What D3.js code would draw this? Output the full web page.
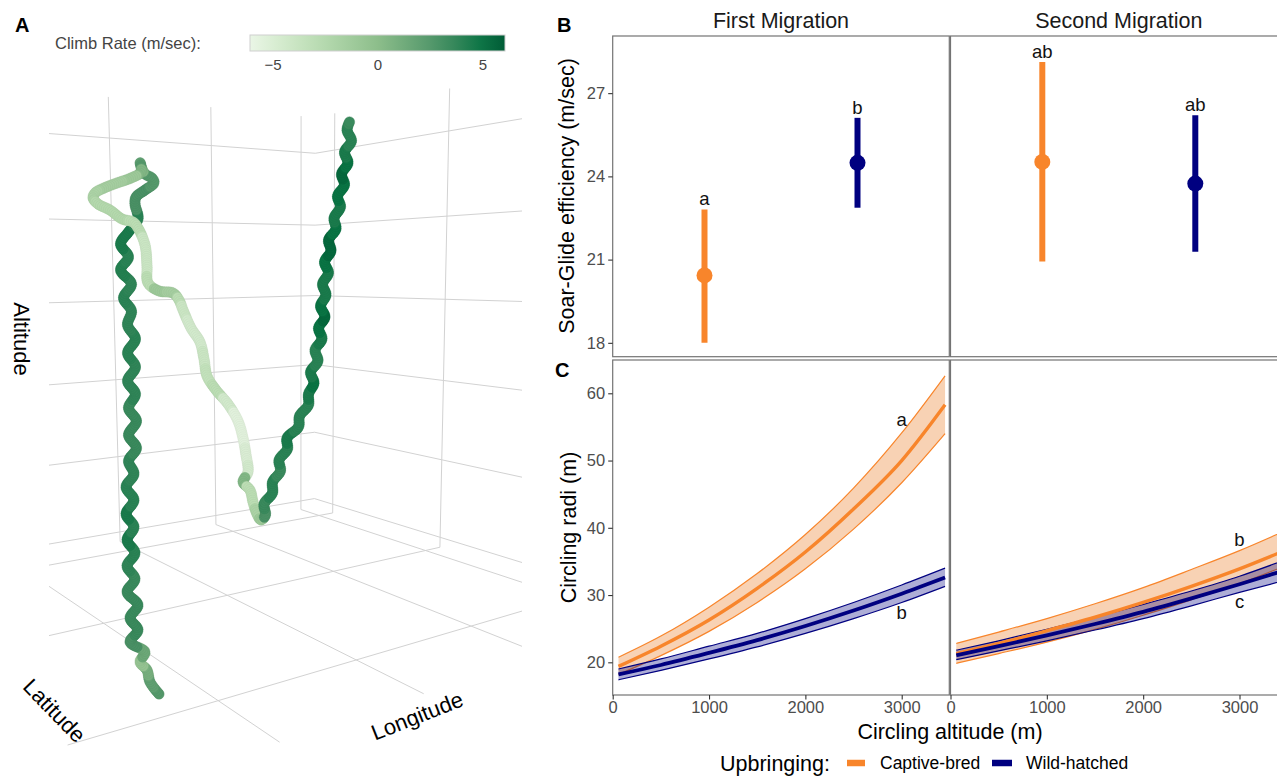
<!DOCTYPE html>
<html>
<head>
<meta charset="utf-8">
<script src="https://cdn.jsdelivr.net/npm/d3@7"></script>
<style>
  body { margin: 0; background: #fff; }
  svg { display: block; }
  text { font-family: "Liberation Sans", Arial, sans-serif; }
</style>
</head>
<body>
<svg id="fig" width="1277" height="776"></svg>
<script>
// ---------- data ----------
const groups = ["Captive-bred", "Wild-hatched"];
const migrations = ["First Migration", "Second Migration"];
const groupColors = ["#f8852b", "#000080"];

// B: soar-glide efficiency (m/sec), mean and interval per upbringing
const firstEff = [20.43, 24.49];
const firstLow = [18.0, 22.87];
const firstHigh = [22.81, 26.11];
const firstLetters = ["a", "b"];
const secondEff = [24.52, 23.74];
const secondLow = [20.93, 21.28];
const secondHigh = [28.12, 26.2];
const secondLetters = ["ab", "ab"];
const effTicks = [18, 21, 24, 27];

// C: circling radius (m) against circling altitude (m)
const altitude = [60, 500, 1000, 1500, 2000, 2500, 3000, 3450];
const captiveFirstFit = [19.4, 22.4, 26.3, 31.0, 36.4, 42.8, 50.0, 58.3];
const captiveFirstLow = [18.2, 21.0, 24.6, 28.9, 33.9, 39.8, 46.7, 54.0];
const captiveFirstHigh = [20.75, 23.9, 28.2, 33.2, 39.0, 45.9, 54.1, 62.6];
const wildFirstFit = [18.2, 19.6, 21.4, 23.3, 25.4, 27.7, 30.2, 32.6];
const wildFirstLow = [17.4, 18.8, 20.5, 22.3, 24.3, 26.5, 28.9, 31.3];
const wildFirstHigh = [19.0, 20.5, 22.4, 24.3, 26.5, 28.9, 31.5, 34.0];
const captiveSecondFit = [21.3, 22.8, 24.7, 26.7, 28.9, 31.3, 33.9, 36.5];
const captiveSecondLow = [19.85, 21.3, 23.0, 24.9, 27.0, 29.3, 31.7, 34.2];
const captiveSecondHigh = [22.8, 24.5, 26.5, 28.7, 31.1, 33.8, 36.6, 39.4];
const wildSecondFit = [21.05, 22.4, 24.0, 25.7, 27.5, 29.5, 31.6, 33.6];
const wildSecondLow = [20.4, 21.7, 23.2, 24.8, 26.5, 28.4, 30.4, 32.1];
const wildSecondHigh = [21.8, 23.2, 24.9, 26.7, 28.6, 30.6, 32.8, 35.1];
const radiusTicks = [20, 30, 40, 50, 60];
const altTicksC = [0, 1000, 2000, 3000];
const firstCurveLetters = ["a", "b"];
const secondCurveLetters = ["b", "c"];

// A: flight track in projected view units (0-100), climb rate (m/sec)
const trackX = [31.8, 30.0, 29.4, 28.0, 29.0, 26.0, 27.6, 26.0, 27.6, 25.4, 27.0, 25.4, 27.0, 25.4, 26.8, 25.2,
  26.8, 25.2, 26.8, 25.7, 27.3, 25.7, 27.3, 25.7, 27.1, 25.5, 27.1, 25.5, 27.1, 25.5, 26.3, 24.7, 26.3, 24.1,
  25.7, 24.1, 25.7, 27.6,
  27.0, 27.2, 29.0, 30.8, 30.4, 29.0, 28.2, 28.0, 28.2, 26.2, 23.4, 20.8, 19.0, 18.6, 19.6, 22.0, 24.4, 26.6,
  27.6, 29.0, 29.4, 29.6, 31.8, 34.6, 35.8, 36.6, 38.2, 40.0, 40.8, 41.4, 43.2, 45.6, 47.6, 48.6, 49.2, 49.6,
  48.6, 50.0, 50.6, 51.4, 52.2,
  53.1, 52.8, 54.5, 54.5, 56.1, 55.8, 57.5, 57.4, 59.7, 59.9, 61.7, 61.7, 62.8, 62.1, 63.6, 63.0, 64.4, 63.7,
  65.0, 64.1, 65.2, 64.5, 65.7, 64.9, 66.2, 65.7, 67.2, 66.8, 68.1, 67.5, 68.9, 68.3, 69.6, 68.9, 70.3, 69.4, 70.0];
const trackY = [13.25, 14.75, 16.25, 17.25, 18.5, 19.75, 21.25, 22.75, 24.38, 26.0, 27.63, 29.25, 30.88, 32.5,
  34.13, 35.75, 37.5, 39.13, 40.75, 42.38, 44.0, 45.63, 47.38, 49.0, 50.75, 52.38, 54.13, 55.88, 57.63, 59.38,
  61.13, 62.75, 64.5, 66.25, 67.88, 69.5, 71.0, 72.63,
  74.5, 75.38, 76.25, 77.13, 77.75, 78.25, 79.25, 79.75, 78.5, 77.75, 77.13, 76.5, 75.88, 75.25, 74.5, 73.75,
  72.63, 72.25,
  71.5, 69.38, 66.75, 64.63, 63.63, 63.38, 62.5, 61.25, 59.0, 57.25, 55.13, 53.0, 51.25, 49.5, 47.38, 45.25,
  43.13, 41.0, 39.75, 38.75, 37.25, 35.75, 35.0,
  35.63, 37.0, 38.38, 39.75, 41.13, 42.5, 43.88, 45.25, 46.63, 48.0, 49.38, 50.75, 52.13, 53.5, 54.88, 56.25,
  57.63, 59.0, 60.38, 61.75, 63.13, 64.5, 65.88, 67.25, 68.63, 70.0, 71.38, 72.75, 74.13, 75.5, 76.88, 78.25,
  79.63, 81.0, 82.38, 83.75, 84.88];
const climbRate = [2.5, 2.0, 1.0, -0.5, 1.5, 3.0, 3.5, 3.5, 3.5, 3.5, 3.5, 3.8, 4.0, 4.5, 4.0, 4.5,
  4.0, 4.0, 3.8, 3.8, 3.5, 3.5, 3.5, 3.5, 3.8, 3.8, 3.8, 4.0, 4.0, 3.8, 3.8, 4.0, 3.8, 4.2, 4.0, 4.5, 4.5, 4.0,
  3.0, 3.0, 3.0, 2.5, 2.5, 2.5, 2.5, 2.0, 0.5, -1.0, -1.5, -1.5, -2.0, -2.0, -2.5, -2.5, -2.5, -3.0,
  -3.0, -4.0, -4.0, -3.0, -1.0, -1.5, -3.0, -4.0, -4.5, -4.5, -4.0, -3.5, -3.0, -4.5, -5.5, -5.5, -5.0, -4.5,
  0.5, -3.0, -3.0, -2.0, -1.0,
  3.0, 3.5, 4.0, 4.0, 3.5, 4.0, 4.0, 4.5, 4.0, 4.0, 4.0, 4.5, 5.0, 4.5, 4.0, 4.0, 4.5, 5.0, 5.5, 5.0, 4.5, 4.5,
  4.5, 5.0, 5.5, 5.5, 5.0, 4.5, 4.5, 5.0, 5.0, 5.5, 5.0, 4.5, 4.0, 4.0, 3.5];
const climbTicks = [-5, 0, 5];

// A: 3D box grid, in scene units
const lonTicks = [1, 2, 3, 4];
const latTicks = [1, 2, 3];
const altTicksA = [0, 1, 2, 3, 4, 5];

// ---------- layout ----------
const svg = d3.select("#fig");
svg.append("rect").attr("width", 1277).attr("height", 776).attr("fill", "#fff");
const FONT = '"Liberation Sans", Arial, sans-serif';
const frameColor = "#737373", tickText = "#4d4d4d";

// ===== Panel A: 3D scene =====
// screen anchors of the plotted box [lon, lat, alt, px, py], used to fit the perspective camera
const sceneAnchors = [
  [1, 0.8, 0, 300, 508], [2, 0.8, 0, 215, 523], [3, 0.8, 0, 120, 547],
  [1, 0.8, 5.62, 300, 118], [2, 0.8, 5.62, 211, 107], [3, 0.8, 5.62, 109, 95],
  [0.83, 1, 0, 334, 513], [0.83, 2, 0, 442, 548], [0.83, 1, 5.62, 336, 113], [0.83, 2, 5.62, 450, 88],
  [0.83, 0.8, 0.13, 314, 497], [0.83, 0.8, 5.13, 314, 154],
  [2, 2, 0, 333.6, 571], [3, 2, 0, 227, 595], [4, 2, 0, 106, 621],
  [4, 3, 0, 217, 700], [3, 3, 0, 355, 660], [2, 3, 0, 470, 628]
];
const uRange = [0.83, 4.9], vRange = [0.8, 3.4], wRange = [0, 5.62];
const altToW = d3.scaleLinear().domain([0, 5]).range([0.13, 5.13]);

function fitCamera(anchors) {
  const n = 11;
  const M = Array.from({length: n}, () => new Array(n + 1).fill(0));
  const addRow = (row, rhs) => {
    for (let i = 0; i < n; i++) {
      for (let j = 0; j < n; j++) M[i][j] += row[i] * row[j];
      M[i][n] += row[i] * rhs;
    }
  };
  anchors.forEach(([u, v, w, x, y]) => {
    addRow([u, v, w, 1, 0, 0, 0, 0, -x * u, -x * v, -x * w], x);
    addRow([0, 0, 0, 0, u, v, w, 1, -y * u, -y * v, -y * w], y);
  });
  for (let c = 0; c < n; c++) {
    let p = c;
    for (let r = c + 1; r < n; r++) if (Math.abs(M[r][c]) > Math.abs(M[p][c])) p = r;
    [M[c], M[p]] = [M[p], M[c]];
    for (let r = 0; r < n; r++) {
      if (r === c) continue;
      const f = M[r][c] / M[c][c];
      for (let k = c; k <= n; k++) M[r][k] -= f * M[c][k];
    }
  }
  return M.map((row, i) => row[n] / row[i]);
}
const cam = fitCamera(sceneAnchors);
const project = (u, v, w) => {
  const d = cam[8] * u + cam[9] * v + cam[10] * w + 1;
  return [(cam[0] * u + cam[1] * v + cam[2] * w + cam[3]) / d,
          (cam[4] * u + cam[5] * v + cam[6] * w + cam[7]) / d];
};

svg.append("clipPath").attr("id", "sceneClip")
  .append("rect").attr("x", 49).attr("y", 0).attr("width", 473).attr("height", 776);
const grid = svg.append("g").attr("clip-path", "url(#sceneClip)")
  .attr("stroke", "#d2d2d2").attr("stroke-width", 1).attr("fill", "none");
const seg = (a, b) => grid.append("path").attr("d", d3.line()([project(...a), project(...b)]));

// left back wall (lat = back)
lonTicks.forEach(u => seg([u, vRange[0], wRange[0]], [u, vRange[0], wRange[1]]));
altTicksA.forEach(k => seg([uRange[0], vRange[0], altToW(k)], [uRange[1], vRange[0], altToW(k)]));
// right back wall (lon = back)
latTicks.forEach(v => seg([uRange[0], v, wRange[0]], [uRange[0], v, wRange[1]]));
altTicksA.forEach(k => seg([uRange[0], vRange[0], altToW(k)], [uRange[0], vRange[1], altToW(k)]));
// floor
lonTicks.forEach(u => seg([u, vRange[0], 0], [u, vRange[1], 0]));
latTicks.forEach(v => seg([uRange[0], v, 0], [uRange[1], v, 0]));

// track
const xView = d3.scaleLinear().domain([0, 100]).range([0, 500]);
const yView = d3.scaleLinear().domain([0, 100]).range([800, 0]);
const climbColor = d3.scaleLinear()
  .domain([-6.1, -3, 0, 3, 5, 6.05])
  .range(["#eaf6e6", "#bcdeb4", "#8dbe8b", "#4a9165", "#0a7444", "#005c36"])
  .interpolate(d3.interpolateRgb).clamp(true);

const trackPts = trackX.map((x, i) => [xView(x), yView(trackY[i])]);
const guide = svg.append("path")
  .attr("d", d3.line().curve(d3.curveCatmullRom.alpha(0.5))(trackPts))
  .attr("fill", "none").attr("stroke", "none");
const gNode = guide.node();
const total = gNode.getTotalLength();
let cur = 0;
const beads = d3.range(0, total, 2.2).map(l => {
  const p = gNode.getPointAtLength(l);
  let best = cur, bd = Infinity;
  for (let k = Math.max(0, cur - 1); k < Math.min(trackPts.length, cur + 5); k++) {
    const dd = (trackPts[k][0] - p.x) ** 2 + (trackPts[k][1] - p.y) ** 2;
    if (dd < bd) { bd = dd; best = k; }
  }
  cur = best;
  return {x: p.x, y: p.y, c: climbRate[best]};
});
svg.append("g").selectAll("circle").data(beads).join("circle")
  .attr("cx", d => d.x).attr("cy", d => d.y).attr("r", 5.2)
  .attr("fill", d => climbColor(d.c))
  .attr("stroke", d => d3.color(climbColor(d.c)).darker(0.25))
  .attr("stroke-width", 0.6).attr("stroke-opacity", 0.6);

// axis titles of the scene
svg.append("text").attr("transform", "translate(14,339) rotate(90)")
  .attr("text-anchor", "middle").attr("font-size", 22).text("Altitude");
svg.append("text").attr("transform", "translate(49,716) rotate(46)")
  .attr("text-anchor", "middle").attr("font-size", 22).text("Latitude");
svg.append("text").attr("transform", "translate(420,723) rotate(-21.5)")
  .attr("text-anchor", "middle").attr("font-size", 22).text("Longitude");

// colour bar
const cb = d3.scaleLinear().domain([-6.1, 6.05]).range([250, 505]);
const grad = svg.append("defs").append("linearGradient").attr("id", "cbGrad");
d3.range(0, 1.0001, 0.1).forEach(t => {
  grad.append("stop").attr("offset", t).attr("stop-color", climbColor(cb.invert(250 + t * 255)));
});
svg.append("rect").attr("x", cb.range()[0]).attr("y", 35).attr("width", cb.range()[1] - cb.range()[0])
  .attr("height", 16).attr("fill", "url(#cbGrad)").attr("stroke", "#cfcfcf").attr("stroke-width", 1);
svg.append("text").attr("x", 55).attr("y", 49).attr("font-size", 16.5).attr("fill", "#444")
  .text("Climb Rate (m/sec):");
svg.append("g").selectAll("text").data(climbTicks).join("text")
  .attr("x", d => cb(d)).attr("y", 70).attr("text-anchor", "middle")
  .attr("font-size", 15).attr("fill", "#444").text(d3.format("d"));

// ===== Panels B and C =====
const facetX = [612.7, 950.5], facetW = 336.6;
const xB = facetX.map(x0 => d3.scalePoint().domain(groups).range([x0, x0 + facetW]).padding(0.6));
const yB = d3.scaleLinear().domain([17.5, 29.06]).range([356.7, 36]);
const xC = facetX.map(x0 => d3.scaleLinear().domain([0, 3494]).range([x0, x0 + facetW]));
const yC = d3.scaleLinear().domain([15.14, 64.95]).range([695, 360]);

// frames
facetX.forEach(x0 => {
  svg.append("rect").attr("x", x0).attr("y", 36).attr("width", facetW).attr("height", 356.7 - 36)
    .attr("fill", "none").attr("stroke", frameColor).attr("stroke-width", 1.2);
  svg.append("rect").attr("x", x0).attr("y", 360).attr("width", facetW).attr("height", 695 - 360)
    .attr("fill", "none").attr("stroke", frameColor).attr("stroke-width", 1.2);
});

// strip titles
migrations.forEach((m, i) => {
  svg.append("text").attr("x", facetX[i] + facetW / 2).attr("y", 27.5).attr("text-anchor", "middle")
    .attr("font-size", 21.5).attr("fill", "#1a1a1a").text(m);
});

// B y axis
svg.append("g").attr("transform", `translate(${facetX[0]},0)`)
  .call(d3.axisLeft(yB).tickValues(effTicks).tickSize(4.5).tickPadding(3))
  .call(g => g.select(".domain").remove())
  .call(g => g.selectAll("line").attr("stroke", "#333").attr("stroke-width", 1.1))
  .call(g => g.selectAll("text").attr("font-size", 16.5).attr("fill", tickText).attr("font-family", FONT));
svg.append("text").attr("transform", "translate(574,196) rotate(-90)").attr("text-anchor", "middle")
  .attr("font-size", 21.5).text("Soar-Glide efficiency (m/sec)");

// B point ranges
const effRows = [
  {mean: firstEff, low: firstLow, high: firstHigh, letters: firstLetters},
  {mean: secondEff, low: secondLow, high: secondHigh, letters: secondLetters}
];
effRows.forEach((row, f) => {
  const g = svg.append("g");
  groups.forEach((grp, i) => {
    const x = xB[f](grp);
    g.append("line").attr("x1", x).attr("x2", x).attr("y1", yB(row.low[i])).attr("y2", yB(row.high[i]))
      .attr("stroke", groupColors[i]).attr("stroke-width", 6);
    g.append("circle").attr("cx", x).attr("cy", yB(row.mean[i])).attr("r", 8).attr("fill", groupColors[i]);
    g.append("text").attr("x", x).attr("y", yB(row.high[i]) - 4).attr("text-anchor", "middle")
      .attr("font-size", 18.5).attr("fill", "#111").text(row.letters[i]);
  });
});

// C axes
svg.append("g").attr("transform", `translate(${facetX[0]},0)`)
  .call(d3.axisLeft(yC).tickValues(radiusTicks).tickSize(4.5).tickPadding(3))
  .call(g => g.select(".domain").remove())
  .call(g => g.selectAll("line").attr("stroke", "#333").attr("stroke-width", 1.1))
  .call(g => g.selectAll("text").attr("font-size", 16.5).attr("fill", tickText).attr("font-family", FONT));
xC.forEach(sc => {
  svg.append("g").attr("transform", "translate(0,695)")
    .call(d3.axisBottom(sc).tickValues(altTicksC).tickSize(4.5).tickPadding(2).tickFormat(d3.format("d")))
    .call(g => g.select(".domain").remove())
    .call(g => g.selectAll("line").attr("stroke", "#333").attr("stroke-width", 1.1))
    .call(g => g.selectAll("text").attr("font-size", 16.5).attr("fill", tickText).attr("font-family", FONT));
});
svg.append("text").attr("transform", "translate(575.5,527.5) rotate(-90)").attr("text-anchor", "middle")
  .attr("font-size", 21.5).text("Circling radi (m)");
svg.append("text").attr("x", 950).attr("y", 739).attr("text-anchor", "middle")
  .attr("font-size", 21.5).text("Circling altitude (m)");

// C ribbons and fits
const curveSets = [
  [{fit: captiveFirstFit, low: captiveFirstLow, high: captiveFirstHigh},
   {fit: wildFirstFit, low: wildFirstLow, high: wildFirstHigh}],
  [{fit: captiveSecondFit, low: captiveSecondLow, high: captiveSecondHigh},
   {fit: wildSecondFit, low: wildSecondLow, high: wildSecondHigh}]
];
const ribbonFill = ["rgba(236,125,40,0.35)", "rgba(0,0,128,0.32)"];
curveSets.forEach((sets, f) => {
  const sx = xC[f];
  const g = svg.append("g");
  const line = vals => d3.line().curve(d3.curveMonotoneX)
    .x((d, i) => sx(altitude[i])).y(d => yC(d))(vals);
  sets.forEach((s, i) => {
    g.append("path")
      .attr("d", d3.area().curve(d3.curveMonotoneX)
        .x((d, j) => sx(altitude[j])).y0((d, j) => yC(s.low[j])).y1((d, j) => yC(s.high[j]))(altitude))
      .attr("fill", ribbonFill[i]);
    [s.low, s.high].forEach(edge => g.append("path").attr("d", line(edge))
      .attr("fill", "none").attr("stroke", groupColors[i]).attr("stroke-width", 1.2));
  });
  sets.forEach((s, i) => {
    g.append("path").attr("d", line(s.fit)).attr("fill", "none")
      .attr("stroke", groupColors[i]).attr("stroke-width", i === 0 ? 3.4 : 3.8);
  });
});

// C letters
const curveLetters = [firstCurveLetters, secondCurveLetters];
const letterAt = [[56.0, 27.3], [38.2, 29.0]];
curveLetters.forEach((labels, f) => {
  labels.forEach((lab, i) => {
    svg.append("text").attr("x", xC[f](3000)).attr("y", yC(letterAt[f][i]) + 6).attr("text-anchor", "middle")
      .attr("font-size", 18.5).attr("fill", "#111").text(lab);
  });
});

// legend
const leg = svg.append("g").attr("transform", "translate(0,763)");
leg.append("text").attr("x", 720).attr("y", 7.5).attr("font-size", 21.5).text("Upbringing:");
const legKeys = [{x: 847, w: 18, tx: 880}, {x: 992, w: 20, tx: 1026}];
groups.forEach((grp, i) => {
  leg.append("line").attr("x1", legKeys[i].x).attr("x2", legKeys[i].x + legKeys[i].w)
    .attr("stroke", groupColors[i]).attr("stroke-width", 6.5);
  leg.append("text").attr("x", legKeys[i].tx).attr("y", 6).attr("font-size", 17.5).text(grp);
});

// panel letters
[["A", 15, 32], ["B", 557, 32], ["C", 555, 377]].forEach(([t, x, y]) => {
  svg.append("text").attr("x", x).attr("y", y).attr("font-size", 20).attr("font-weight", "bold").text(t);
});
</script>
</body>
</html>
